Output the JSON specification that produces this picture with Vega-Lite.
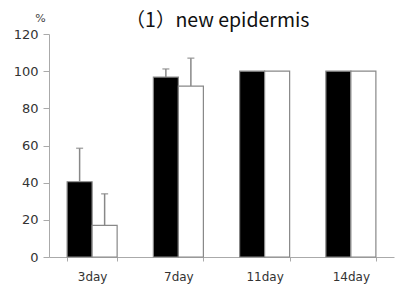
{
  "$schema": "https://vega.github.io/schema/vega-lite/v6.json",
  "width": 345,
  "height": 223,
  "autosize": {"type": "none"},
  "padding": {"left": 49, "top": 34, "right": 1, "bottom": 36},
  "background": "white",
  "title": {"text": "（1）new epidermis", "font": "Noto Sans CJK JP", "fontSize": 19.5, "fontWeight": "normal", "color": "#111", "anchor": "middle", "offset": 6, "dy": 25, "dx": -4},
  "data": {"values": [
    {"day": "3day", "group": "A", "value": 40.5, "upper": 58.5},
    {"day": "3day", "group": "B", "value": 17, "upper": 34},
    {"day": "7day", "group": "A", "value": 96.8, "upper": 101.2},
    {"day": "7day", "group": "B", "value": 92, "upper": 107},
    {"day": "11day", "group": "A", "value": 100, "upper": null},
    {"day": "11day", "group": "B", "value": 100, "upper": null},
    {"day": "14day", "group": "A", "value": 100, "upper": null},
    {"day": "14day", "group": "B", "value": 100, "upper": null}
  ]},
  "encoding": {
    "x": {"field": "day", "type": "nominal", "sort": ["3day", "7day", "11day", "14day"],
      "scale": {"paddingInner": 0.42, "paddingOuter": 0.21},
      "axis": {"title": null, "labelAngle": 0, "tickBand": "extent", "domainColor": "#aaa", "tickColor": "#aaa", "tickSize": 4, "labelPadding": 10, "labelFont": "DejaVu Sans", "labelFontSize": 12, "labelColor": "#333"}},
    "xOffset": {"field": "group", "type": "nominal", "scale": {"paddingInner": 0, "paddingOuter": 0}},
    "y": {"field": "value", "type": "quantitative", "scale": {"domain": [0, 120]},
      "axis": {"title": "%", "titleAngle": 0, "titleX": -9, "titleY": -16, "titleAlign": "center", "titleBaseline": "middle", "titleFont": "DejaVu Sans", "titleFontSize": 11, "titleFontWeight": "normal", "titleColor": "#444",
        "values": [0, 20, 40, 60, 80, 100, 120], "labelOverlap": false, "grid": false, "domainColor": "#aaa", "tickColor": "#aaa", "tickSize": 6, "labelPadding": 5, "labelFont": "DejaVu Sans", "labelFontSize": 13, "labelColor": "#333"}}
  },
  "layer": [
    {
      "mark": {"type": "bar", "stroke": "#888", "strokeWidth": 1.2},
      "encoding": {
        "fill": {"field": "group", "type": "nominal", "scale": {"domain": ["A", "B"], "range": ["#000000", "#ffffff"]}, "legend": null}
      }
    },
    {
      "transform": [{"filter": "datum.upper != null"}],
      "mark": {"type": "rule", "color": "#888", "strokeWidth": 1.5},
      "encoding": {
        "y2": {"field": "upper"}
      }
    },
    {
      "transform": [{"filter": "datum.upper != null"}],
      "mark": {"type": "tick", "color": "#888", "size": 7, "thickness": 1.5},
      "encoding": {
        "y": {"field": "upper", "type": "quantitative"}
      }
    }
  ],
  "config": {"view": {"stroke": null}, "axis": {"labelOverlap": false}}
}
